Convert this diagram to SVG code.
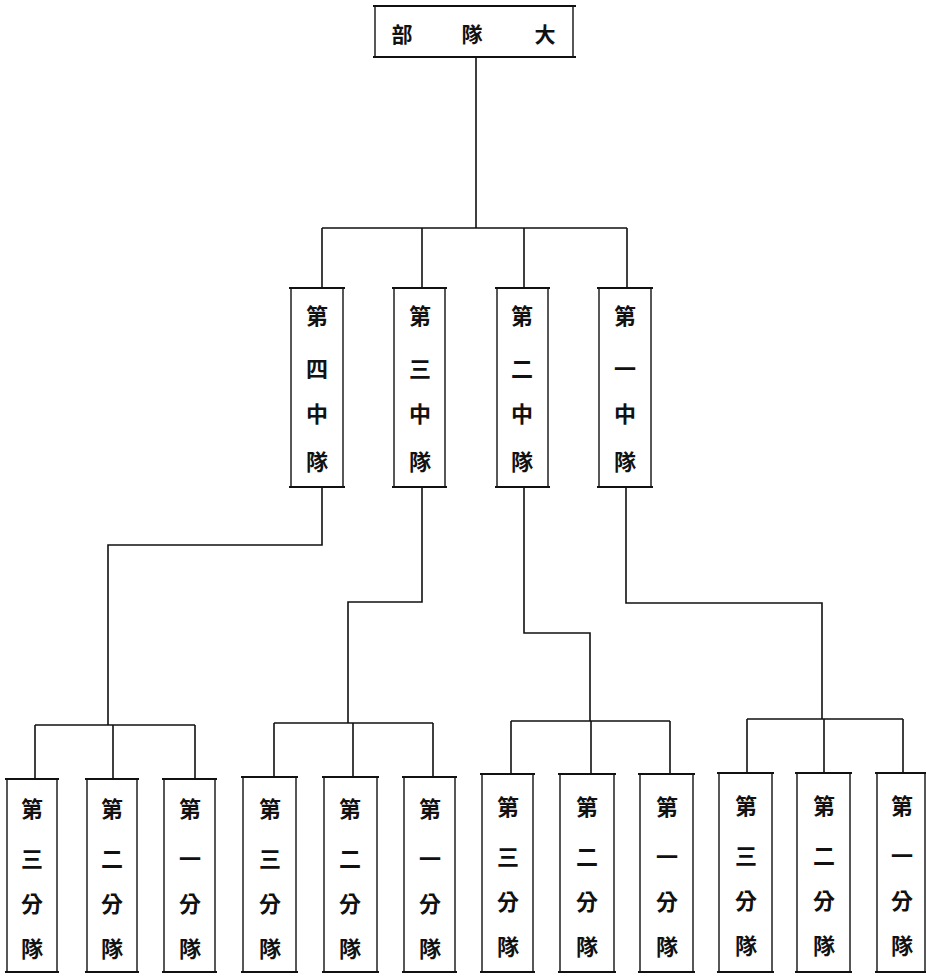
<svg xmlns="http://www.w3.org/2000/svg" width="926" height="977" viewBox="0 0 926 977">
<style>
.bx{fill:#fff;stroke:#111;stroke-width:1.4}
.rl{stroke:#111;stroke-width:2.2;fill:none}
.cn{stroke:#111;stroke-width:1.6;fill:none}
.t{font-family:"Noto Sans CJK TC","Noto Sans CJK SC",sans-serif;font-weight:700;fill:#111;text-anchor:middle;dominant-baseline:central}
.t20{font-size:21px}
.t21{font-size:22px}
</style>
<rect width="926" height="977" fill="#fff"/>
<g id="connectors">
<path class="cn" d="M476 58V228M322 228H627M322 228V288M422 228V288M524 228V288M627 228V288"/>
<path class="cn" d="M322 487V545H108V725"/>
<path class="cn" d="M422 487V602H348V723"/>
<path class="cn" d="M524 487V633H590V721"/>
<path class="cn" d="M626 487V603H822V719"/>
<path class="cn" d="M35 725H195M35 725V779M113 725V779M195 725V779"/>
<path class="cn" d="M274 723H433M274 723V777M353 723V777M433 723V777"/>
<path class="cn" d="M511 721H670M511 721V774M591 721V774M670 721V774"/>
<path class="cn" d="M747 719H903M747 719V773M824 719V773M903 719V773"/>
</g>
<g id="hq">
<rect class="bx" x="375" y="6" width="198" height="51"/>
<path class="rl" d="M373 6H576M373 57H576"/>
<text class="t t20" x="402" y="33">部</text>
<text class="t t20" x="472" y="33">隊</text>
<text class="t t20" x="545" y="33">大</text>
</g>
<g id="m4">
<rect class="bx" x="291" y="288" width="52" height="199"/>
<path class="rl" d="M289 288H345M289 487H345"/>
<text class="t t21" x="317" y="314">第</text><text class="t t21" x="317" y="367">四</text><text class="t t21" x="317" y="412">中</text><text class="t t21" x="317" y="460">隊</text>
</g>
<g id="m3">
<rect class="bx" x="394" y="288" width="51" height="199"/>
<path class="rl" d="M392 288H447M392 487H447"/>
<text class="t t21" x="420" y="314">第</text><text class="t t21" x="420" y="367">三</text><text class="t t21" x="420" y="412">中</text><text class="t t21" x="420" y="460">隊</text>
</g>
<g id="m2">
<rect class="bx" x="497" y="288" width="51" height="199"/>
<path class="rl" d="M495 288H550M495 487H550"/>
<text class="t t21" x="522" y="314">第</text><text class="t t21" x="522" y="367">二</text><text class="t t21" x="522" y="412">中</text><text class="t t21" x="522" y="460">隊</text>
</g>
<g id="m1">
<rect class="bx" x="599" y="288" width="52" height="199"/>
<path class="rl" d="M597 288H653M597 487H653"/>
<text class="t t21" x="625" y="314">第</text><text class="t t21" x="625" y="367">一</text><text class="t t21" x="625" y="412">中</text><text class="t t21" x="625" y="460">隊</text>
</g>
<g id="g1s3"><rect class="bx" x="7" y="779" width="50" height="193"/><path class="rl" d="M5 779H59M5 972H59"/>
<text class="t t21" x="32" y="807">第</text><text class="t t21" x="32" y="857">三</text><text class="t t21" x="32" y="902">分</text><text class="t t21" x="32" y="947">隊</text></g>
<g id="g1s2"><rect class="bx" x="87" y="779" width="50" height="193"/><path class="rl" d="M85 779H139M85 972H139"/>
<text class="t t21" x="112" y="807">第</text><text class="t t21" x="112" y="857">二</text><text class="t t21" x="112" y="902">分</text><text class="t t21" x="112" y="947">隊</text></g>
<g id="g1s1"><rect class="bx" x="164" y="779" width="51" height="193"/><path class="rl" d="M162 779H217M162 972H217"/>
<text class="t t21" x="190" y="807">第</text><text class="t t21" x="190" y="857">一</text><text class="t t21" x="190" y="902">分</text><text class="t t21" x="190" y="947">隊</text></g>
<g id="g2s3"><rect class="bx" x="243" y="777" width="53" height="195"/><path class="rl" d="M241 777H298M241 972H298"/>
<text class="t t21" x="270" y="807">第</text><text class="t t21" x="270" y="857">三</text><text class="t t21" x="270" y="902">分</text><text class="t t21" x="270" y="947">隊</text></g>
<g id="g2s2"><rect class="bx" x="324" y="777" width="53" height="195"/><path class="rl" d="M322 777H379M322 972H379"/>
<text class="t t21" x="350" y="807">第</text><text class="t t21" x="350" y="857">二</text><text class="t t21" x="350" y="902">分</text><text class="t t21" x="350" y="947">隊</text></g>
<g id="g2s1"><rect class="bx" x="404" y="777" width="51" height="195"/><path class="rl" d="M402 777H457M402 972H457"/>
<text class="t t21" x="430" y="807">第</text><text class="t t21" x="430" y="857">一</text><text class="t t21" x="430" y="902">分</text><text class="t t21" x="430" y="947">隊</text></g>
<g id="g3s3"><rect class="bx" x="482" y="774" width="51" height="198"/><path class="rl" d="M480 774H535M480 972H535"/>
<text class="t t21" x="508" y="805">第</text><text class="t t21" x="508" y="855">三</text><text class="t t21" x="508" y="900">分</text><text class="t t21" x="508" y="945">隊</text></g>
<g id="g3s2"><rect class="bx" x="560" y="774" width="54" height="198"/><path class="rl" d="M558 774H616M558 972H616"/>
<text class="t t21" x="587" y="805">第</text><text class="t t21" x="587" y="855">二</text><text class="t t21" x="587" y="900">分</text><text class="t t21" x="587" y="945">隊</text></g>
<g id="g3s1"><rect class="bx" x="640" y="774" width="53" height="198"/><path class="rl" d="M638 774H695M638 972H695"/>
<text class="t t21" x="667" y="805">第</text><text class="t t21" x="667" y="855">一</text><text class="t t21" x="667" y="900">分</text><text class="t t21" x="667" y="945">隊</text></g>
<g id="g4s3"><rect class="bx" x="719" y="773" width="53" height="199"/><path class="rl" d="M717 773H774M717 972H774"/>
<text class="t t21" x="746" y="804">第</text><text class="t t21" x="746" y="854">三</text><text class="t t21" x="746" y="899">分</text><text class="t t21" x="746" y="944">隊</text></g>
<g id="g4s2"><rect class="bx" x="797" y="773" width="53" height="199"/><path class="rl" d="M795 773H852M795 972H852"/>
<text class="t t21" x="824" y="804">第</text><text class="t t21" x="824" y="854">二</text><text class="t t21" x="824" y="899">分</text><text class="t t21" x="824" y="944">隊</text></g>
<g id="g4s1"><rect class="bx" x="877" y="773" width="48" height="199"/><path class="rl" d="M875 773H926M875 972H926"/>
<text class="t t21" x="902" y="804">第</text><text class="t t21" x="902" y="854">一</text><text class="t t21" x="902" y="899">分</text><text class="t t21" x="902" y="944">隊</text></g>
</svg>
